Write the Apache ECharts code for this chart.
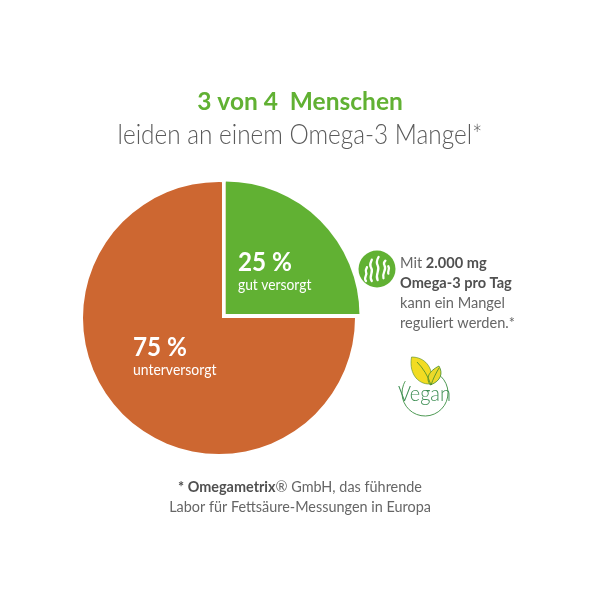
<!DOCTYPE html>
<html><head><meta charset="utf-8">
<style>html,body{margin:0;padding:0;background:#fff}#c{width:600px;height:600px}</style>
<script src="https://cdn.jsdelivr.net/npm/echarts@6/dist/echarts.min.js"></script>
</head><body><div id="c"></div>
<script>
const categories = ['gut versorgt', 'unterversorgt'];
const shares = [25, 75];
const shareLabels = ['25 %', '75 %'];
const titleLines = ['3 von 4  Menschen', 'leiden an einem Omega-3 Mangel*'];
const noteLines = ['{a|Mit }{b|2.000 mg}', '{b|Omega-3 pro Tag}', '{a|kann ein Mangel}', '{a|reguliert werden.*}'];
const footLines = ['{b|* Omegametrix}{a|® GmbH, das führende}', '{a|Labor für Fettsäure-Messungen in Europa}'];
const badgeText = 'Vegan';

const FONT = 'Lato, "Open Sans", sans-serif';
const GREEN = '#61b133', ORANGE = '#cd6731', GREY = '#666666';
const rich = (size) => ({
  a: {fontFamily: FONT, fontSize: size, fontWeight: 400, fill: GREY, color: GREY},
  b: {fontFamily: FONT, fontSize: size, fontWeight: 700, fill: '#505050', color: '#505050'}
});
const txt = (x, y, text, size, weight, fill, align, sx) => ({
  type: 'text', x, y, z: 20, scaleX: sx || 1,
  style: {text, fontFamily: FONT, fontSize: size, fontWeight: weight, fill, align: align || 'left', verticalAlign: 'middle'}
});
const richTxt = (x, y, text, size, align, sx) => ({
  type: 'text', x, y, z: 20, scaleX: sx || 1,
  style: {text, rich: rich(size), align: align || 'left', verticalAlign: 'middle'}
});
const weed = 'M2 26C-1 22 4 20 2 16C1 14 3 12 3 11' +
  'M8 26C4 20 11 17 7 11C5 8 8 4 8 3' +
  'M14 25C11 18 17 15 14 9C12 5 14 2 15 0' +
  'M20 23C18 17 24 14 21 9C20 7 21 5 22 4' +
  'M25 18C24 15 27 13 25 10';
const leafA = 'M412 357C424 357 433 366 431 382C420 384 409 374 412 357Z';
const leafB = 'M439 366C443 373 441 381 431 385C426 378 430 371 439 366Z';
const stem = 'M417 362C423 368 428 376 431 385C433 379 436 373 439 368';
const pathAbs = (pathData, rect, style) => ({
  type: 'path', shape: {pathData, layout: 'cover', x: rect[0], y: rect[1], width: rect[2], height: rect[3]}, style
});
const option = {
  animation: false,
  backgroundColor: '#fff',
  series: [
    {
      type: 'pie', center: [219, 318], radius: 136, startAngle: 90, silent: true, z: 1,
      label: {show: false}, labelLine: {show: false},
      data: categories.map((name, i) => ({name, value: shares[i], itemStyle: {color: ORANGE}}))
    },
    {
      type: 'pie', center: [225.5, 315.5], radius: 134, startAngle: 90, silent: true, z: 2,
      label: {show: false}, labelLine: {show: false},
      data: categories.map((name, i) => ({
        name, value: shares[i],
        itemStyle: i === 0 ? {color: GREEN} : {color: 'rgba(0,0,0,0)'}
      }))
    },
    {
      type: 'custom', coordinateSystem: 'none', silent: true, z: 30, data: [0],
      renderItem: () => ({
        type: 'group',
        children: [
          pathAbs(weed, [365, 257, 24, 24], {fill: null, stroke: '#fff', lineWidth: 2.3, lineCap: 'round'}),
          pathAbs(leafA, [411, 357, 21, 27], {fill: '#f2dc22', stroke: '#4f8a2a', lineWidth: 0.6}),
          pathAbs(leafB, [428, 366, 13, 19], {fill: '#ecd92a', stroke: '#3f8a2a', lineWidth: 0.8}),
          pathAbs(stem, [417, 362, 22, 23], {fill: null, stroke: '#3f8a2a', lineWidth: 0.8})
        ]
      })
    }
  ],
  graphic: [
    {type: 'rect', z: 10, shape: {x: 222, y: 176, width: 3.7, height: 142}, style: {fill: '#fff'}},
    {type: 'rect', z: 10, shape: {x: 222, y: 314, width: 142, height: 4}, style: {fill: '#fff'}},
    txt(300, 102, titleLines[0], 24.5, 700, GREEN, 'center'),
    txt(300, 135, titleLines[1], 28, 300, '#5a5a5a', 'center', 0.87),
    txt(238, 262, shareLabels[0], 27, 700, '#fff', 'left', 0.9),
    txt(238, 285, categories[0], 15, 400, '#fff', 'left', 0.92),
    txt(133, 347, shareLabels[1], 27, 700, '#fff', 'left', 0.9),
    txt(133, 370, categories[1], 15, 400, '#fff', 'left', 0.93),
    {type: 'circle', z: 20, shape: {cx: 377, cy: 269, r: 18.5}, style: {fill: GREEN}},
    ...noteLines.map((t, i) => richTxt(400, 263 + i * 20, t, 15.5, 'left', 0.94)),
    {type: 'arc', z: 20, shape: {cx: 425, cy: 393, r: 23, startAngle: -1.2, endAngle: -2.6, clockwise: true}, style: {stroke: '#4f9a55', lineWidth: 1, fill: null}},
    txt(424.5, 394, badgeText, 21, 300, '#3f8f55', 'center', 0.95),
    ...footLines.map((t, i) => richTxt(300, 487 + i * 20, t, 15.5, 'center', 0.93))
  ]
};
echarts.init(document.getElementById('c'), null, {renderer: 'canvas'}).setOption(option);
</script></body></html>
